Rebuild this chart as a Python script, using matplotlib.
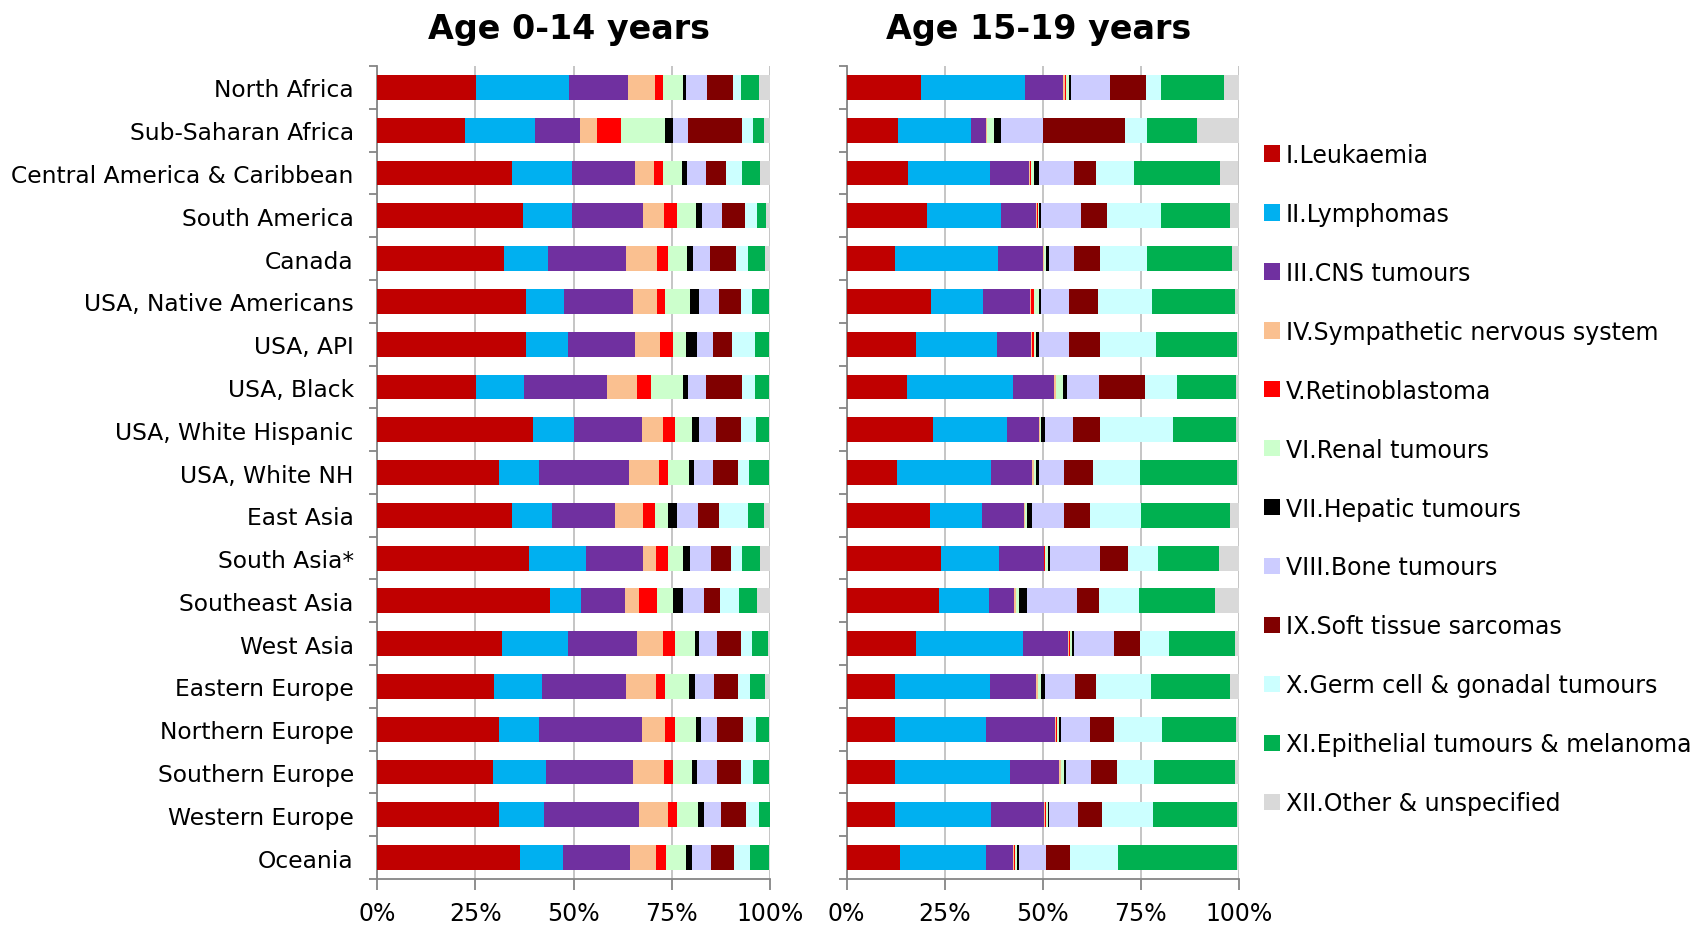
import matplotlib
matplotlib.use("Agg")
import matplotlib.pyplot as plt
from matplotlib.patches import Patch
import numpy as np

plt.rcParams['font.family'] = ['DejaVu Sans']

regions = ["North Africa", "Sub-Saharan Africa", "Central America & Caribbean",
           "South America", "Canada", "USA, Native Americans", "USA, API",
           "USA, Black", "USA, White Hispanic", "USA, White NH", "East Asia",
           "South Asia*", "Southeast Asia", "West Asia", "Eastern Europe",
           "Northern Europe", "Southern Europe", "Western Europe", "Oceania"]

groups = ["I.Leukaemia", "II.Lymphomas", "III.CNS tumours",
          "IV.Sympathetic nervous system", "V.Retinoblastoma", "VI.Renal tumours",
          "VII.Hepatic tumours", "VIII.Bone tumours", "IX.Soft tissue sarcomas",
          "X.Germ cell & gonadal tumours", "XI.Epithelial tumours & melanoma",
          "XII.Other & unspecified"]

colors = ["#C00000", "#00B0F0", "#7030A0", "#FAC090", "#FF0000", "#CCFFCC",
          "#000000", "#CCCCFF", "#800000", "#CCFFFF", "#00B050", "#D9D9D9"]

# percent share of each diagnostic group, one row per region (same order as regions)
shares_0_14 = [
    [25.2, 23.6, 15.0, 7.1, 1.8, 5.1, 0.8, 5.5, 6.5, 2.0, 4.7, 2.7],
    [22.4, 17.9, 11.4, 4.3, 6.2, 11.1, 2.0, 3.9, 13.7, 2.9, 2.7, 1.5],
    [34.4, 15.1, 16.3, 4.6, 2.3, 4.9, 1.3, 4.9, 5.2, 3.9, 4.6, 2.5],
    [37.1, 12.6, 18.1, 5.2, 3.5, 4.7, 1.5, 5.1, 5.8, 3.2, 2.3, 0.9],
    [32.4, 11.1, 20.0, 7.8, 2.7, 4.9, 1.5, 4.5, 6.4, 3.3, 4.2, 1.2],
    [37.8, 9.7, 17.6, 6.2, 2.0, 6.3, 2.3, 5.2, 5.5, 2.9, 4.3, 0.2],
    [37.8, 10.7, 17.3, 6.2, 3.3, 3.4, 2.8, 4.0, 4.8, 5.9, 3.6, 0.2],
    [25.2, 12.1, 21.3, 7.5, 3.6, 8.1, 1.5, 4.5, 9.1, 3.3, 3.6, 0.2],
    [39.6, 10.5, 17.3, 5.3, 3.3, 4.1, 2.0, 4.3, 6.2, 3.9, 3.3, 0.2],
    [31.1, 10.1, 22.9, 7.8, 2.1, 5.5, 1.3, 4.7, 6.4, 2.9, 5.0, 0.2],
    [34.4, 10.1, 16.0, 7.2, 3.0, 3.3, 2.3, 5.5, 5.4, 7.3, 4.0, 1.5],
    [38.7, 14.4, 14.7, 3.2, 3.0, 3.9, 1.7, 5.4, 5.1, 2.8, 4.6, 2.5],
    [43.9, 8.1, 11.2, 3.6, 4.5, 4.0, 2.6, 5.3, 4.1, 5.0, 4.6, 3.1],
    [31.8, 16.7, 17.6, 6.6, 3.2, 5.0, 1.0, 4.8, 5.9, 2.9, 4.0, 0.5],
    [29.8, 12.1, 21.6, 7.5, 2.3, 6.2, 1.4, 4.8, 6.2, 3.0, 3.9, 1.2],
    [31.1, 10.1, 26.2, 5.9, 2.6, 5.3, 1.3, 4.2, 6.6, 3.2, 3.3, 0.2],
    [29.5, 13.4, 22.2, 7.9, 2.3, 4.9, 1.3, 5.2, 5.9, 3.2, 4.0, 0.2],
    [31.1, 11.5, 24.2, 7.2, 2.3, 5.5, 1.4, 4.5, 6.3, 3.2, 2.8, 0.0],
    [36.4, 10.8, 17.3, 6.5, 2.6, 5.2, 1.4, 4.8, 5.9, 4.0, 4.9, 0.2],
]

shares_15_19 = [
    [19.0, 26.4, 9.8, 0.5, 0.2, 0.8, 0.5, 10.1, 9.0, 3.8, 16.1, 3.8],
    [13.1, 18.6, 3.9, 0.2, 0.1, 1.6, 2.0, 10.5, 20.9, 5.8, 12.8, 10.5],
    [15.6, 21.0, 9.8, 0.3, 0.3, 0.9, 1.1, 9.0, 5.7, 9.7, 21.9, 4.6],
    [20.6, 18.9, 8.8, 0.3, 0.1, 0.3, 0.7, 10.1, 6.5, 13.8, 17.6, 2.3],
    [12.4, 26.1, 11.5, 0.3, 0.1, 0.5, 0.7, 6.5, 6.6, 12.0, 21.7, 1.6],
    [21.6, 13.1, 12.1, 0.3, 0.7, 1.2, 0.7, 7.1, 7.2, 13.8, 21.3, 0.9],
    [17.7, 20.6, 8.8, 0.3, 0.3, 0.5, 1.0, 7.5, 7.9, 14.4, 20.6, 0.3],
    [15.4, 27.0, 10.5, 0.5, 0.1, 1.6, 1.1, 8.2, 11.8, 8.1, 15.0, 0.7],
    [21.9, 18.9, 8.3, 0.2, 0.1, 0.3, 1.0, 7.1, 6.9, 18.6, 16.0, 0.7],
    [12.8, 24.1, 10.5, 0.3, 0.1, 0.5, 0.8, 6.4, 7.3, 12.0, 24.9, 0.3],
    [21.3, 13.3, 10.6, 0.3, 0.1, 0.4, 1.4, 8.1, 6.6, 13.1, 22.5, 2.3],
    [24.1, 14.8, 11.4, 0.1, 0.3, 0.6, 0.7, 12.7, 7.2, 7.5, 15.7, 4.9],
    [23.6, 12.6, 6.6, 0.3, 0.1, 0.8, 2.0, 12.8, 5.6, 10.1, 19.6, 5.9],
    [17.7, 27.4, 11.4, 0.3, 0.2, 0.5, 0.6, 10.2, 6.5, 7.5, 16.8, 0.9],
    [12.4, 24.2, 11.8, 0.3, 0.1, 0.9, 1.0, 7.5, 5.5, 14.0, 20.0, 2.3],
    [12.4, 23.2, 17.6, 0.3, 0.1, 0.7, 0.5, 7.3, 6.2, 12.1, 18.9, 0.7],
    [12.4, 29.4, 12.5, 0.4, 0.1, 0.7, 0.4, 6.5, 6.6, 9.4, 20.7, 0.9],
    [12.4, 24.5, 13.4, 0.4, 0.1, 0.5, 0.3, 7.5, 6.0, 13.0, 21.6, 0.3],
    [13.7, 21.9, 6.9, 0.3, 0.1, 0.5, 0.5, 7.0, 6.2, 12.2, 30.4, 0.3],
]

x_ticks = [0, 25, 50, 75, 100]
x_labels = ["0%", "25%", "50%", "75%", "100%"]

AXIS_COL = "#868686"
GRID_COL = "#C0C0C0"
FS = 17

fig = plt.figure(figsize=(16.93, 9.28), dpi=100)
ax_left = fig.add_axes([0.2229, 0.0517, 0.2317, 0.8761])
ax_right = fig.add_axes([0.5001, 0.0517, 0.2315, 0.8761])


def draw_panel(ax, data, title, show_labels):
    data = np.array(data)
    y = np.arange(len(regions))
    left = np.zeros(len(regions))
    for j in range(len(groups)):
        ax.barh(y, data[:, j], left=left, height=0.58, color=colors[j],
                linewidth=0, zorder=3)
        left += data[:, j]
    ax.set_xlim(0, 100)
    ax.set_ylim(len(regions) - 0.5, -0.5)
    ax.set_xticks(x_ticks)
    ax.set_xticklabels(x_labels, fontsize=FS)
    ax.grid(axis='x', color=GRID_COL, linewidth=1.3, zorder=0)
    ax.set_axisbelow(True)
    for s in ['top', 'right']:
        ax.spines[s].set_visible(False)
    for s in ['left', 'bottom']:
        ax.spines[s].set_color(AXIS_COL)
        ax.spines[s].set_linewidth(1.3)
    ax.tick_params(axis='x', direction='out', length=8, width=1.3,
                   color=AXIS_COL, pad=8)
    # boundary ticks between categories, labels sit at the centres
    ax.set_yticks(np.arange(len(regions) + 1) - 0.5)
    ax.set_yticklabels([])
    ax.tick_params(axis='y', which='major', direction='out', length=6,
                   width=1.3, color=AXIS_COL)
    ax.set_yticks(y, minor=True)
    if show_labels:
        ax.set_yticklabels(regions, minor=True, fontsize=16.8)
    ax.tick_params(axis='y', which='minor', length=0, pad=17)
    ax.set_title(title, fontsize=24, fontweight='bold', pad=20, x=0.489)


draw_panel(ax_left, shares_0_14, "Age 0-14 years", True)
draw_panel(ax_right, shares_15_19, "Age 15-19 years", False)

handles = [Patch(facecolor=c, edgecolor='none') for c in colors]
fig.legend(handles, groups, loc='upper left', bbox_to_anchor=(0.7466, 0.845),
           frameon=False, fontsize=FS, borderpad=0, borderaxespad=0,
           handlelength=0.68, handleheight=0.68, handletextpad=0.25,
           labelspacing=1.48)

fig.savefig("out.png", dpi=100)
